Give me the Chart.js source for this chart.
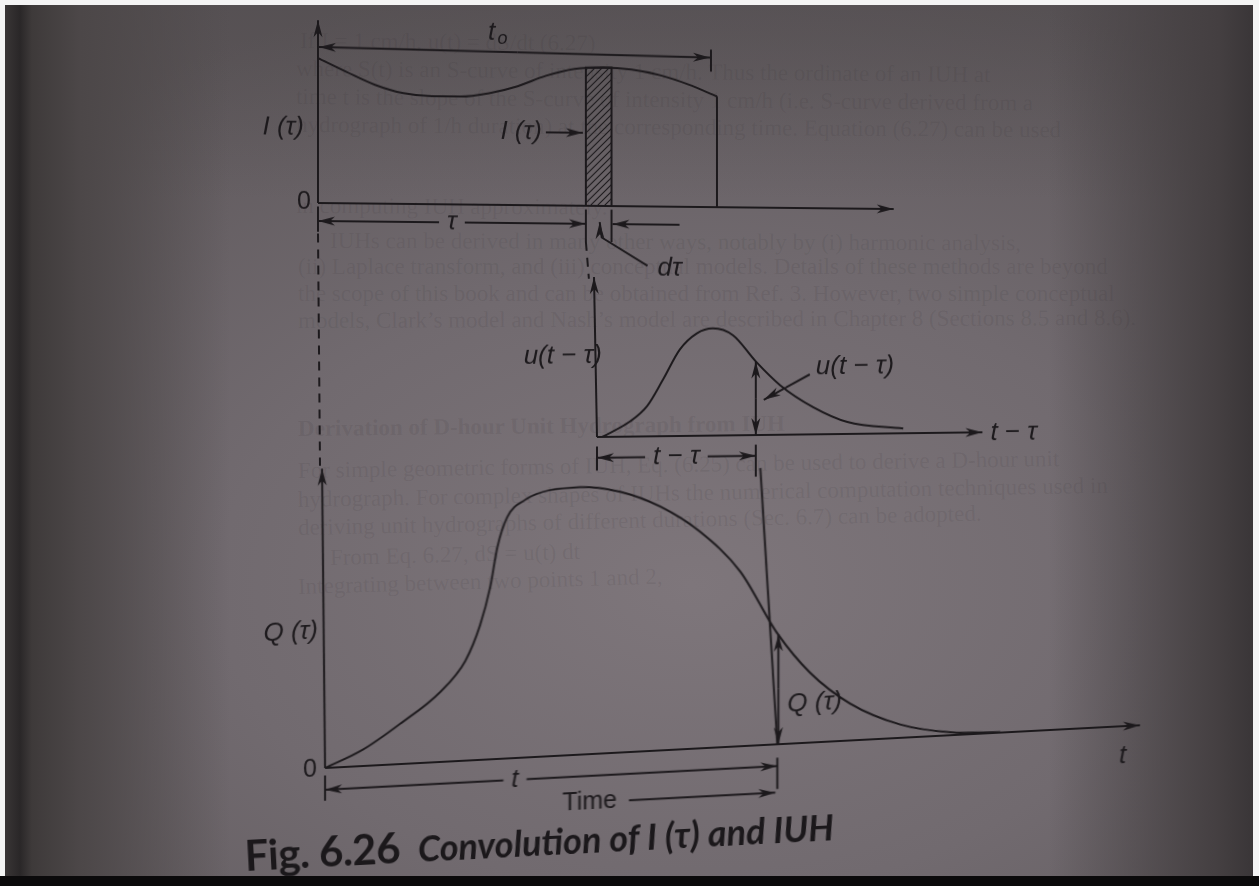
<!DOCTYPE html>
<html>
<head>
<meta charset="utf-8">
<script src="https://cdn.jsdelivr.net/npm/chart.js@4/dist/chart.umd.min.js"></script>
<style>
  html, body { margin: 0; padding: 0; }
  body {
    width: 1259px; height: 886px; overflow: hidden; position: relative;
    background:
      linear-gradient(90deg, rgb(62,58,58) 0, rgb(42,39,40) 20px, rgb(62,58,58) 32px, rgb(76,71,72) 80px, rgba(95,89,91,0) 230px),
      linear-gradient(270deg, rgb(56,52,54) 0, rgb(68,63,65) 40px, rgba(90,84,87,0) 210px),
      linear-gradient(180deg, rgba(70,66,68,0.35) 0, rgba(70,66,68,0) 200px),
      radial-gradient(ellipse 75% 70% at 55% 66%, rgb(126,118,123) 0%, rgb(113,106,111) 50%, rgb(94,88,91) 100%);
  }
  .edge { position: absolute; }
  #edgeTop { left: 0; top: 0; width: 1259px; height: 5px; background: #f4f4f4; }
  #edgeLeft { left: 0; top: 0; width: 5px; height: 886px; background: #f4f4f4; }
  #edgeRight { right: 0; top: 0; width: 6px; height: 886px; background: #f4f4f4; }
  #edgeBottom { left: 0; bottom: 0; width: 1259px; height: 10px; background: #0b0a0b; }
  .panel { position: absolute; }
  #ghost div {
    position: absolute; white-space: nowrap;
    font: 23px "Liberation Serif", serif; color: rgba(45,40,44,0.1);
    transform-origin: 0 50%;
  }
  #cap {
    position: absolute; left: 246px; top: 830px; white-space: nowrap; color: #1b181b;
    transform: rotate(-3deg); transform-origin: 0 100%;
  }
  #cap .fig { font: 700 42px "Lato", sans-serif; letter-spacing: -0.5px; }
  #cap .ttl { font: italic 700 36px "Lato", sans-serif; margin-left: 18px; }
</style>
</head>
<body>
<div id="ghost"></div>

<canvas id="cI" class="panel" width="700" height="470" style="left:230px;top:10px;transform:skewY(0.6deg);transform-origin:88px 193px"></canvas>
<canvas id="cU" class="panel" width="590" height="240" style="left:470px;top:250px;transform:skewY(-0.7deg);transform-origin:127px 187px"></canvas>
<canvas id="cQ" class="panel" width="950" height="390" style="left:230px;top:440px;transform:skewY(-3deg);transform-origin:95px 328px"></canvas>

<div id="cap"><span class="fig">Fig. 6.26</span><span class="ttl">Convolution of I (&tau;) and IUH</span></div>

<div id="edgeTop" class="edge"></div>
<div id="edgeLeft" class="edge"></div>
<div id="edgeRight" class="edge"></div>
<div id="edgeBottom" class="edge"></div>

<script>
// rainfall excess I(tau) over its duration t0
var t0 = 7.0;
var iTau = [0, 0.5, 1, 1.5, 2, 2.5, 3, 3.5, 4, 4.5, 5, 5.5, 6, 6.5, 7];
var iVal = [8.05, 7.3, 6.6, 6.15, 6.0, 6.0, 6.2, 6.6, 7.2, 7.6, 7.7, 7.6, 7.3, 6.8, 6.15];

// the elementary block I(tau) d(tau)
var tau = 4.7, dTau = 0.45;
var stripTau = [4.7, 4.7, 5.15, 5.15];
var stripVal = [0, 7.68, 7.7, 0];

// IUH ordinates against lag (t - tau)
var uLag = [0.1, 0.64, 0.97, 1.28, 1.6, 1.93, 2.24, 2.63, 3.07, 3.54, 4.18, 4.84, 5.92];
var uVal = [0, 0.95, 1.9, 3.56, 5.4, 6.4, 6.7, 6.25, 4.6, 3.1, 1.7, 0.75, 0.3];
var uAtLag = 4.6;

// resulting runoff hydrograph Q
var tNow = 7.77;
var qT = [0, 0.65, 1.29, 1.98, 2.41, 2.66, 2.84, 2.96, 3.13, 3.44, 3.87, 4.38, 5.07, 5.76, 6.44, 7.13, 7.77, 8.33, 9.02, 9.88, 10.74, 11.6];
var qVal = [0, 0.55, 1.35, 2.35, 3.35, 4.5, 5.8, 7.1, 8.1, 8.65, 8.93, 8.98, 8.75, 8.18, 7.27, 5.87, 3.72, 2.35, 1.24, 0.45, 0.1, 0.02];
var qAtT = 3.72;

// faint text from the printed page behind the figure
var pageLines = [
  ['If I = 1 cm/h,                    u(t) = dS/dt                                  (6.27)', 300, 28, 0.5],
  ['where S(t) is an S-curve of intensity 1 cm/h. Thus the ordinate of an IUH at', 296, 56, 0.5],
  ['time t is the slope of the S-curve of intensity 1 cm/h (i.e. S-curve derived from a', 296, 84, 0.5],
  ['hydrograph of 1/h duration) at the corresponding time. Equation (6.27) can be used', 296, 112, 0.4],
  ['in computing IUH approximately.', 296, 193, 0.3],
  ['IUHs can be derived in many other ways, notably by (i) harmonic analysis,', 330, 228, 0.2],
  ['(ii) Laplace transform, and (iii) conceptual models. Details of these methods are beyond', 298, 254, 0],
  ['the scope of this book and can be obtained from Ref. 3. However, two simple conceptual', 298, 281, 0],
  ['models, Clark\u2019s model and Nash\u2019s model are described in Chapter 8 (Sections 8.5 and 8.6).', 298, 308, -0.2],
  ['Derivation of D-hour Unit Hydrograph from IUH', 298, 416, -0.6],
  ['For simple geometric forms of IUH, Eq. (6.25) can be used to derive a D-hour unit', 298, 458, -0.9],
  ['hydrograph. For complex shapes of IUHs the numerical computation techniques used in', 298, 487, -1.0],
  ['deriving unit hydrographs of different durations (Sec. 6.7) can be adopted.', 298, 515, -1.2],
  ['From Eq. 6.27,  dS = u(t) dt', 330, 545, -1.4],
  ['Integrating between two points 1 and 2,', 298, 574, -1.6]
];

var INK = '#1c191c';
var ITALIC = 'italic 26px "Liberation Sans", Arial, sans-serif';
var UPRIGHT = '25px "Liberation Sans", Arial, sans-serif';

pageLines.forEach(function(l, i) {
  var d = document.createElement('div');
  d.textContent = l[0];
  d.style.left = l[1] + 'px';
  d.style.top = l[2] + 'px';
  d.style.transform = 'rotate(' + l[3] + 'deg)';
  if (i === 9) d.style.fontWeight = 'bold';
  document.getElementById('ghost').appendChild(d);
});

function pts(xs, ys) {
  return xs.map(function(x, i) { return {x: x, y: ys[i]}; });
}

function seg(ctx, x1, y1, x2, y2) {
  ctx.beginPath(); ctx.moveTo(x1, y1); ctx.lineTo(x2, y2); ctx.stroke();
}

function head(ctx, x, y, ang) {
  ctx.save();
  ctx.translate(x, y); ctx.rotate(ang);
  ctx.beginPath();
  ctx.moveTo(0, 0); ctx.lineTo(-17, -4.5); ctx.lineTo(-12, 0); ctx.lineTo(-17, 4.5);
  ctx.closePath(); ctx.fill();
  ctx.restore();
}

function arrow(ctx, x1, y1, x2, y2) {
  seg(ctx, x1, y1, x2, y2);
  head(ctx, x2, y2, Math.atan2(y2 - y1, x2 - x1));
}

function text(ctx, s, x, y, align, font) {
  ctx.font = font || ITALIC;
  ctx.textAlign = align || 'center';
  ctx.textBaseline = 'middle';
  ctx.fillText(s, x, y);
}

// |<--- label --->| span between two pixel positions
function span(ctx, xa, xb, y, s, xm) {
  ctx.font = ITALIC;
  var w = ctx.measureText(s).width;
  if (xm === undefined) xm = (xa + xb) / 2;
  arrow(ctx, xm - w / 2 - 8, y, xa, y);
  arrow(ctx, xm + w / 2 + 8, y, xb, y);
  text(ctx, s, xm, y);
}

function hatch() {
  var c = document.createElement('canvas');
  c.width = 7; c.height = 7;
  var g = c.getContext('2d');
  g.strokeStyle = INK; g.lineWidth = 1.1;
  g.beginPath();
  g.moveTo(0, 7); g.lineTo(7, 0);
  g.moveTo(-1, 1); g.lineTo(1, -1);
  g.moveTo(6, 8); g.lineTo(8, 6);
  g.stroke();
  return g.createPattern(c, 'repeat');
}

function decorate(draw) {
  return {
    id: 'decor',
    afterDatasetsDraw: function(chart) {
      var X = chart.scales.x, Y = chart.scales.y, ctx = chart.ctx;
      ctx.save();
      ctx.strokeStyle = INK; ctx.fillStyle = INK; ctx.lineWidth = 2;
      ctx.lineCap = 'butt';
      draw(ctx,
        function(v) { return X.getPixelForValue(v); },
        function(v) { return Y.getPixelForValue(v); });
      ctx.restore();
    }
  };
}

function makeChart(id, datasets, xMax, pad, draw) {
  return new Chart(document.getElementById(id), {
    type: 'line',
    data: { datasets: datasets },
    options: {
      responsive: false,
      animation: false,
      devicePixelRatio: 1,
      layout: { padding: pad },
      plugins: { legend: { display: false }, tooltip: { enabled: false } },
      elements: {
        point: { radius: 0 },
        line: { borderColor: INK, borderWidth: 2, cubicInterpolationMode: 'monotone', fill: false }
      },
      scales: {
        x: { type: 'linear', min: 0, max: xMax, display: false },
        y: { min: 0, max: 10, display: false }
      }
    },
    plugins: [decorate(draw)]
  });
}

// top panel: I(tau)
makeChart('cI', [
  { data: pts(iTau, iVal) },
  { data: [{x: t0, y: iVal[iVal.length - 1]}, {x: t0, y: 0}], tension: 0, cubicInterpolationMode: 'default' },
  { data: pts(stripTau, stripVal), tension: 0, cubicInterpolationMode: 'default', fill: 'origin', backgroundColor: hatch() }
], 10, { left: 88, right: 42, top: 13, bottom: 277 }, function(ctx, px, py) {
  arrow(ctx, px(0), py(0), px(10.1), py(0));
  arrow(ctx, px(0), py(0), px(0), py(10.15));

  // duration t0
  var xr = px(t0) - 6;
  var ya = py(8.67), yb = py(8.3), xm = px(t0 / 2);
  var ym = (ya + yb) / 2;
  arrow(ctx, xm, ym, px(0) + 1, ya);
  arrow(ctx, xm, ym, xr - 1, yb);
  seg(ctx, xr, yb - 8, xr, yb + 14);
  ctx.font = ITALIC; ctx.textAlign = 'center'; ctx.textBaseline = 'middle';
  ctx.fillText('t', px(t0 * 0.435), py(9.55));
  ctx.font = 'italic 18px "Liberation Sans", Arial, sans-serif';
  ctx.fillText('o', px(t0 * 0.435) + 11, py(9.55) + 6);

  text(ctx, 'I (\u03c4)', px(0) - 14, py(4.2), 'right');
  text(ctx, '0', px(0) - 7, py(0) - 1, 'right', UPRIGHT);

  text(ctx, 'I (\u03c4)', px(tau) - 44, py(4.05), 'right');
  arrow(ctx, px(tau) - 40, py(4.05), px(tau) - 3, py(4.05));

  // tau and d(tau) spans
  var yd = py(-1.0);
  seg(ctx, px(0), py(-0.2), px(0), py(-1.6));
  seg(ctx, px(tau), py(-0.2), px(tau), py(-2.0));
  seg(ctx, px(tau + dTau), py(-0.2), px(tau + dTau), py(-2.0));
  span(ctx, px(0), px(tau), yd, '\u03c4');
  arrow(ctx, px(tau + dTau) + 68, yd, px(tau + dTau) + 1, yd);

  var xc = px(tau + dTau / 2);
  ctx.beginPath();
  ctx.moveTo(px(tau + dTau) + 36, py(-3.3));
  ctx.lineTo(xc + 3, py(-1.75));
  ctx.lineTo(xc + 1, py(-0.9));
  ctx.stroke();
  head(ctx, xc + 1, py(-0.9), -Math.PI / 2 - 0.02);
  text(ctx, 'd\u03c4', px(tau + dTau) + 46, py(-3.45), 'left');

  ctx.setLineDash([9, 7]);
  seg(ctx, px(tau), py(-2.0), px(tau) + 3, py(-4.05));
  seg(ctx, px(0), py(-1.7), px(0) + 2, py(-14.6));
  ctx.setLineDash([]);
});

// middle panel: u(t - tau)
var lag = tNow - tau;
makeChart('cU', [
  { data: pts(uLag, uVal) }
], 7.5, { left: 127, right: 75, top: 27, bottom: 53 }, function(ctx, px, py) {
  arrow(ctx, px(0), py(0), px(7.45), py(0));
  arrow(ctx, px(0), py(0), px(0) - 3, py(10));
  text(ctx, 't \u2212 \u03c4', px(7.45) + 8, py(0) + 1, 'left');
  text(ctx, 'u(t \u2212 \u03c4)', px(0) + 5, py(5.1), 'right');

  var ym = (py(uAtLag) + py(0)) / 2;
  arrow(ctx, px(lag), ym, px(lag), py(uAtLag));
  arrow(ctx, px(lag), ym, px(lag), py(0));
  text(ctx, 'u(t \u2212 \u03c4)', px(lag) + 60, py(4.2), 'left');
  ctx.beginPath(); ctx.moveTo(px(lag) + 54, py(3.75)); ctx.lineTo(px(lag) + 30, py(2.95)); ctx.stroke();
  arrow(ctx, px(lag) + 30, py(2.95), px(lag) + 8, py(2.2));

  seg(ctx, px(0), py(-0.6), px(0), py(-2.1));
  seg(ctx, px(lag), py(-0.6), px(lag), py(-2.6));
  span(ctx, px(0), px(lag), py(-1.3), 't \u2212 \u03c4');
});

// bottom panel: Q
makeChart('cQ', [
  { data: pts(qT, qVal) }
], 14, { left: 95, right: 40, top: 30, bottom: 62 }, function(ctx, px, py) {
  arrow(ctx, px(0), py(0), px(14), py(0));
  arrow(ctx, px(0), py(0), px(0) - 3, py(10.05));
  text(ctx, 't', px(13.7), py(-1.0));
  text(ctx, '0', px(0) - 8, py(0) + 1, 'right', UPRIGHT);
  text(ctx, 'Q (\u03c4)', px(0) - 7, py(4.6), 'right');

  // ordinate at time t
  seg(ctx, px(tNow), py(0), px(tNow) - 17, py(9.3));
  var ym = (py(qAtT) + py(0)) / 2;
  arrow(ctx, px(tNow) + 1, ym, px(tNow) + 1, py(qAtT) + 1);
  arrow(ctx, px(tNow) + 1, ym, px(tNow) + 1, py(0));
  text(ctx, 'Q (\u03c4)', px(tNow) + 10, py(1.33), 'left');

  var yd = py(-0.73);
  seg(ctx, px(0), py(-0.25), px(0), py(-1.1));
  seg(ctx, px(tNow), py(-0.45), px(tNow), py(-1.5));
  span(ctx, px(0), px(tNow), yd, 't', px(tNow * 0.42));

  var yt = py(-1.62);
  text(ctx, 'Time', px(tNow) - 215, yt, 'left', UPRIGHT);
  ctx.font = UPRIGHT;
  var w = ctx.measureText('Time').width;
  arrow(ctx, px(tNow) - 215 + w + 12, yt, px(tNow) - 2, yt);
});
</script>
</body>
</html>
